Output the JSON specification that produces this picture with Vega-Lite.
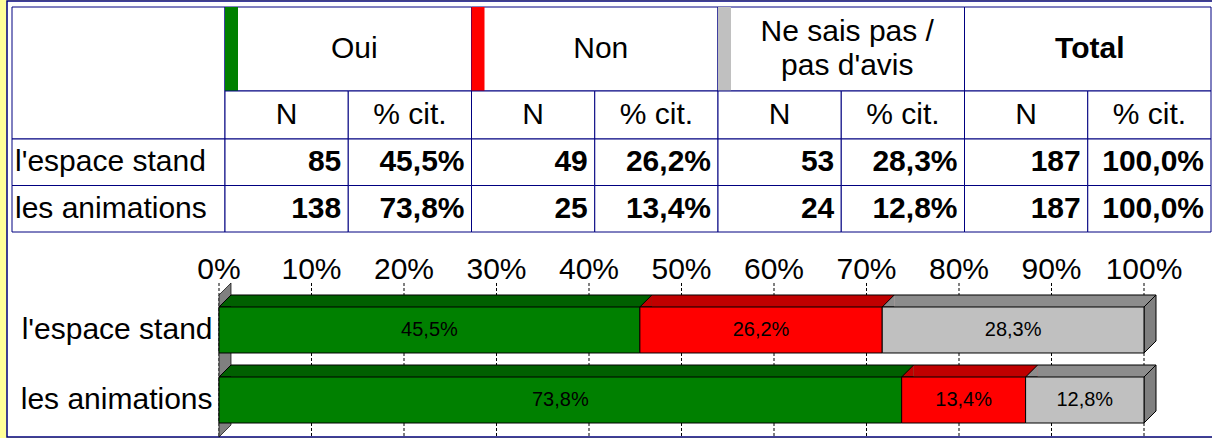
{
  "$schema": "https://vega.github.io/schema/vega-lite/v6.json",
  "width": 1217,
  "height": 438,
  "autosize": "none",
  "padding": 0,
  "background": "#FFFF99",
  "config": {
    "font": "Liberation Sans",
    "locale": {"number": {"decimal": ",", "thousands": " ", "grouping": [3], "currency": ["", " €"]}},
    "view": {"stroke": null},
    "axis": {"labelFont": "Liberation Sans", "labelColor": "#000000", "domain": false, "ticks": false}
  },
  "datasets": {
    "survey": [
      {"cat": "l'espace stand", "resp": "Oui", "n": 85, "pct": 0.455, "ord": 1},
      {"cat": "l'espace stand", "resp": "Non", "n": 49, "pct": 0.262, "ord": 2},
      {"cat": "l'espace stand", "resp": "Ne sais pas / pas d'avis", "n": 53, "pct": 0.283, "ord": 3},
      {"cat": "l'espace stand", "resp": "Total", "n": 187, "pct": 1.0, "ord": 4},
      {"cat": "les animations", "resp": "Oui", "n": 138, "pct": 0.738, "ord": 1},
      {"cat": "les animations", "resp": "Non", "n": 25, "pct": 0.134, "ord": 2},
      {"cat": "les animations", "resp": "Ne sais pas / pas d'avis", "n": 24, "pct": 0.128, "ord": 3},
      {"cat": "les animations", "resp": "Total", "n": 187, "pct": 1.0, "ord": 4}
    ],
    "heads": [
      {"resp": "Oui", "label": "Oui"},
      {"resp": "Non", "label": "Non"},
      {"resp": "Ne sais pas / pas d'avis", "label": "Ne sais pas /\npas d'avis"},
      {"resp": "Total", "label": "Total"}
    ],
    "subheads": [
      {"resp": "Oui", "m": "n", "t": "N"},
      {"resp": "Oui", "m": "pct", "t": "% cit."},
      {"resp": "Non", "m": "n", "t": "N"},
      {"resp": "Non", "m": "pct", "t": "% cit."},
      {"resp": "Ne sais pas / pas d'avis", "m": "n", "t": "N"},
      {"resp": "Ne sais pas / pas d'avis", "m": "pct", "t": "% cit."},
      {"resp": "Total", "m": "n", "t": "N"},
      {"resp": "Total", "m": "pct", "t": "% cit."}
    ],
    "ticks": [
      {"t": 0}, {"t": 0.1}, {"t": 0.2}, {"t": 0.3}, {"t": 0.4}, {"t": 0.5},
      {"t": 0.6}, {"t": 0.7}, {"t": 0.8}, {"t": 0.9}, {"t": 1}
    ]
  },
  "resolve": {
    "scale": {"x": "independent", "y": "independent", "color": "independent", "fill": "independent", "xOffset": "independent"},
    "axis": {"x": "independent", "y": "independent"}
  },
  "layer": [
    {
      "data": {"values": [{"cell": "cadre"}]},
      "mark": {"type": "rect", "fill": "#FFFFFF", "stroke": "#000080", "strokeWidth": 1.5},
      "encoding": {
        "x": {"datum": "cadre", "type": "nominal", "scale": {"domain": ["cadre"], "range": [7, 1217], "paddingInner": 0, "paddingOuter": 0}, "axis": null},
        "y": {"datum": "cadre", "type": "nominal", "scale": {"domain": ["cadre"], "range": [1, 437], "paddingInner": 0, "paddingOuter": 0}, "axis": null}
      }
    },
    {
      "data": {"values": [{"cell": "coin"}]},
      "mark": {"type": "rect", "fill": "#FFFFFF", "stroke": "#000080", "strokeWidth": 1},
      "encoding": {
        "x": {"datum": "lab", "type": "nominal", "scale": {"domain": ["lab"], "range": [12, 225], "paddingInner": 0, "paddingOuter": 0}, "axis": null},
        "y": {"datum": "coin", "type": "nominal", "scale": {"domain": ["coin"], "range": [7, 139], "paddingInner": 0, "paddingOuter": 0}, "axis": null}
      }
    },
    {
      "data": {"name": "survey"},
      "transform": [{"filter": "datum.resp === 'Oui'"}],
      "encoding": {
        "x": {"datum": "lab", "type": "nominal", "scale": {"domain": ["lab"], "range": [12, 225], "paddingInner": 0, "paddingOuter": 0}, "axis": null},
        "y": {"field": "cat", "type": "nominal", "scale": {"domain": ["l'espace stand", "les animations"], "range": [139, 232], "paddingInner": 0, "paddingOuter": 0}, "axis": null}
      },
      "layer": [
        {"mark": {"type": "rect", "fill": "#FFFFFF", "stroke": "#000080", "strokeWidth": 1}},
        {
          "mark": {"type": "text", "align": "left", "dx": 3, "fontSize": 30, "color": "#000000"},
          "encoding": {
            "x": {"datum": "lab", "type": "nominal", "bandPosition": 0, "axis": null},
            "text": {"field": "cat", "type": "nominal"}
          }
        }
      ]
    },
    {
      "data": {"name": "heads"},
      "encoding": {
        "x": {"field": "resp", "type": "nominal", "scale": {"domain": ["Oui", "Non", "Ne sais pas / pas d'avis", "Total"], "range": [225, 1211], "paddingInner": 0, "paddingOuter": 0}, "axis": null},
        "y": {"datum": "h", "type": "nominal", "scale": {"domain": ["h"], "range": [7, 91], "paddingInner": 0, "paddingOuter": 0}, "axis": null}
      },
      "layer": [
        {"mark": {"type": "rect", "fill": "#FFFFFF", "stroke": "#000080", "strokeWidth": 1}},
        {
          "transform": [{"filter": "datum.resp !== 'Total'"}],
          "mark": {"type": "rect", "width": 13, "xOffset": -116.75},
          "encoding": {
            "color": {"field": "resp", "type": "nominal", "scale": {"domain": ["Oui", "Non", "Ne sais pas / pas d'avis"], "range": ["#008000", "#FF0000", "#C0C0C0"]}, "legend": null}
          }
        },
        {
          "transform": [{"filter": "datum.resp === 'Oui' || datum.resp === 'Non'"}],
          "mark": {"type": "text", "fontSize": 30, "dx": 6, "color": "#000000"},
          "encoding": {"text": {"field": "label", "type": "nominal"}}
        },
        {
          "transform": [{"filter": "datum.resp === 'Ne sais pas / pas d\\'avis'"}],
          "mark": {"type": "text", "fontSize": 30, "dx": 6, "dy": -17, "lineBreak": "\n", "lineHeight": 34, "color": "#000000"},
          "encoding": {"text": {"field": "label", "type": "nominal"}}
        },
        {
          "transform": [{"filter": "datum.resp === 'Total'"}],
          "mark": {"type": "text", "fontSize": 30, "fontWeight": "bold", "dx": 2, "color": "#000000"},
          "encoding": {"text": {"field": "label", "type": "nominal"}}
        }
      ]
    },
    {
      "data": {"name": "subheads"},
      "encoding": {
        "x": {"field": "resp", "type": "nominal", "scale": {"domain": ["Oui", "Non", "Ne sais pas / pas d'avis", "Total"], "range": [225, 1211], "paddingInner": 0, "paddingOuter": 0}, "axis": null},
        "xOffset": {"field": "m", "type": "nominal", "scale": {"domain": ["n", "pct"], "paddingInner": 0, "paddingOuter": 0}},
        "y": {"datum": "s", "type": "nominal", "scale": {"domain": ["s"], "range": [91, 139], "paddingInner": 0, "paddingOuter": 0}, "axis": null}
      },
      "layer": [
        {"mark": {"type": "rect", "fill": "#FFFFFF", "stroke": "#000080", "strokeWidth": 1}},
        {"mark": {"type": "text", "fontSize": 30, "color": "#000000"}, "encoding": {"text": {"field": "t", "type": "nominal"}}}
      ]
    },
    {
      "data": {"name": "survey"},
      "encoding": {
        "x": {"field": "resp", "type": "nominal", "scale": {"domain": ["Oui", "Non", "Ne sais pas / pas d'avis", "Total"], "range": [225, 1211], "paddingInner": 0, "paddingOuter": 0}, "axis": null},
        "y": {"field": "cat", "type": "nominal", "scale": {"domain": ["l'espace stand", "les animations"], "range": [139, 232], "paddingInner": 0, "paddingOuter": 0}, "axis": null}
      },
      "layer": [
        {
          "transform": [{"fold": ["n", "pct"], "as": ["m", "v"]}],
          "mark": {"type": "rect", "fill": "#FFFFFF", "stroke": "#000080", "strokeWidth": 1},
          "encoding": {"xOffset": {"field": "m", "type": "nominal", "scale": {"domain": ["n", "pct"], "paddingInner": 0, "paddingOuter": 0}}}
        },
        {
          "mark": {"type": "text", "align": "right", "dx": -7, "fontSize": 30, "fontWeight": "bold", "color": "#000000"},
          "encoding": {
            "x": {"field": "resp", "type": "nominal", "bandPosition": 0.5, "axis": null},
            "text": {"field": "n", "type": "quantitative", "format": "d"}
          }
        },
        {
          "mark": {"type": "text", "align": "right", "dx": -7, "fontSize": 30, "fontWeight": "bold", "color": "#000000"},
          "encoding": {
            "x": {"field": "resp", "type": "nominal", "bandPosition": 1, "axis": null},
            "text": {"field": "pct", "type": "quantitative", "format": ".1%"}
          }
        }
      ]
    },
    {
      "data": {"name": "survey"},
      "transform": [{"filter": "datum.resp !== 'Total'"}],
      "encoding": {
        "y": {
          "field": "cat", "type": "nominal",
          "scale": {"domain": ["l'espace stand", "les animations"], "range": [283, 447], "paddingInner": 0, "paddingOuter": 0.1714},
          "axis": {"orient": "left", "offset": -219, "labelPadding": 7, "labelFontSize": 30, "labelLimit": 400, "title": null, "grid": false, "domain": false, "ticks": false, "zindex": 1}
        }
      },
      "layer": [
        {
          "data": {"name": "ticks"},
          "mark": {"type": "point", "shape": "M0,-47L0,117", "size": 4, "filled": false, "opacity": 1, "stroke": "#000000", "strokeWidth": 1, "strokeDash": [3, 2]},
          "encoding": {
            "x": {"field": "t", "type": "quantitative", "scale": {"domain": [0, 1], "range": [219, 1144]}, "axis": null},
            "y": {"datum": "l'espace stand", "type": "nominal"}
          }
        },
        {
          "data": {"name": "ticks"},
          "mark": {"type": "text", "fontSize": 30, "baseline": "alphabetic", "dy": -51, "color": "#000000"},
          "encoding": {
            "x": {"field": "t", "type": "quantitative", "axis": null},
            "y": {"datum": "l'espace stand", "type": "nominal"},
            "text": {"field": "t", "type": "quantitative", "format": ".0%"}
          }
        },
        {
          "transform": [{"filter": "datum.ord === 1 && datum.cat === \"l'espace stand\""}],
          "mark": {"type": "point", "shape": "M0,-35L12,-47L12,95L0,107Z", "size": 4, "filled": true, "opacity": 1, "fill": "#808080", "stroke": "#000000", "strokeWidth": 0.7},
          "encoding": {
            "x": {"datum": 0, "type": "quantitative", "axis": null}
          }
        },
        {
          "mark": {"type": "bar", "size": 12, "yOffset": -29, "xOffset": 12, "x2Offset": 12},
          "encoding": {
            "x": {"field": "pct", "type": "quantitative", "stack": "zero", "axis": null},
            "fill": {"field": "resp", "type": "nominal", "scale": {"domain": ["Oui", "Non", "Ne sais pas / pas d'avis"], "range": ["#006000", "#C00000", "#8C8C8C"]}, "legend": null},
            "detail": {"field": "resp"},
            "order": {"field": "ord", "type": "quantitative"}
          }
        },
        {
          "mark": {"type": "point", "shape": "M12,-35L0,-23L12,-23", "size": 4, "filled": true, "opacity": 1, "stroke": "#000000", "strokeWidth": 1},
          "encoding": {
            "x": {"field": "pct", "type": "quantitative", "stack": "zero", "bandPosition": 0, "axis": null},
            "fill": {"field": "resp", "type": "nominal", "legend": null},
            "detail": {"field": "resp"},
            "order": {"field": "ord", "type": "quantitative"}
          }
        },
        {
          "transform": [{"filter": "datum.ord === 3"}],
          "mark": {"type": "point", "shape": "M0,-23L12,-35L12,11L0,23Z", "size": 4, "filled": true, "opacity": 1, "fill": "#808080", "stroke": "#000000", "strokeWidth": 1},
          "encoding": {"x": {"datum": 1, "type": "quantitative", "axis": null}}
        },
        {
          "mark": {"type": "bar", "size": 46, "stroke": "#000000", "strokeWidth": 1},
          "encoding": {
            "x": {"field": "pct", "type": "quantitative", "stack": "zero", "axis": null},
            "color": {"field": "resp", "type": "nominal", "scale": {"domain": ["Oui", "Non", "Ne sais pas / pas d'avis"], "range": ["#008000", "#FF0000", "#C0C0C0"]}, "legend": null},
            "order": {"field": "ord", "type": "quantitative"}
          }
        },
        {
          "transform": [{"filter": "datum.ord === 1"}],
          "mark": {"type": "rule", "yOffset": -35, "xOffset": 12, "x2Offset": 12, "color": "#000000", "strokeWidth": 1},
          "encoding": {
            "x": {"datum": 0, "type": "quantitative", "axis": null},
            "x2": {"datum": 1}
          }
        },
        {
          "mark": {"type": "text", "fontSize": 20, "color": "#000000"},
          "encoding": {
            "x": {"field": "pct", "type": "quantitative", "stack": "zero", "bandPosition": 0.5, "axis": null},
            "text": {"field": "pct", "type": "quantitative", "format": ".1%"},
            "detail": {"field": "resp"},
            "order": {"field": "ord", "type": "quantitative"}
          }
        }
      ]
    }
  ]
}
